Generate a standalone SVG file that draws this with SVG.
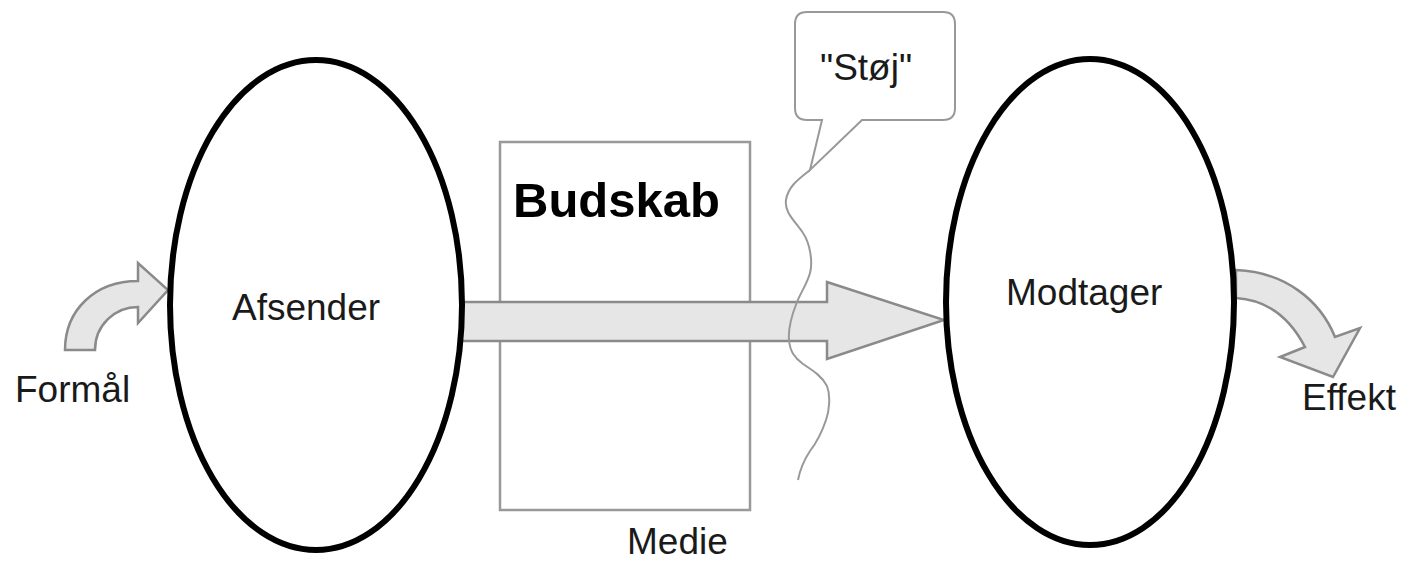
<svg xmlns="http://www.w3.org/2000/svg" width="1408" height="561" viewBox="0 0 1408 561">
<style>
.lbl{font-family:"Liberation Sans",Arial,sans-serif;font-size:37px;fill:#1a1a1a}
.bold{font-family:"Liberation Sans",Arial,sans-serif;font-size:49px;font-weight:bold;fill:#000}
.arrow{fill:#e6e6e6;stroke:#8a8a8a;stroke-width:2.5;stroke-linejoin:miter}
.thin{fill:none;stroke:#999;stroke-width:2}
.oval{fill:#fff;stroke:#000;stroke-width:6}
</style>
<rect width="1408" height="561" fill="#fff"/>
<g id="medie">
<rect x="500" y="142" width="250" height="368" fill="#fff" stroke="#999" stroke-width="2.5"/>
<text class="bold" x="513" y="217">Budskab</text>
<text class="lbl" x="627" y="554">Medie</text>
</g>
<g id="connectors">
<path class="arrow" d="M460,302 H827 V282 L944,320 L827,359 V341 H460 Z"/>
<path class="arrow" d="M65,350 C65,310 95,281 138,281 L138,263 L168,290 L138,323 L138,307 C115,307 95,325 95,350 Z"/>
<path class="arrow" d="M1236,270 C1285,272 1320,300 1335,337 L1360,328 L1333,377 L1280,357 L1305,347 C1290,318 1268,300 1236,298 Z"/>
</g>
<g id="stoj">
<path fill="#fff" stroke="#999" stroke-width="2" d="M807,12 H943 Q955,12 955,24 V108 Q955,120 943,120 H862 L810,170 L822,120 H807 Q795,120 795,108 V24 Q795,12 807,12 Z"/>
<path class="thin" d="M810,170 C800,178 788,186 786,200 C784,213 796,222 803,233 C810,243 813,262 810,273 C807,284 801,292 797,302 C793,312 788,328 789,340 C790,352 795,358 803,364 C812,370 822,376 827,386 C831,396 829,412 826,420 C822,432 817,442 810,451 C804,460 800,470 798,480"/>
<text class="lbl" x="820" y="80">"Støj"</text>
</g>
<g id="afsender">
<ellipse class="oval" cx="316" cy="305" rx="146" ry="245"/>
<text class="lbl" x="232" y="320">Afsender</text>
</g>
<g id="modtager">
<ellipse class="oval" cx="1090" cy="302" rx="144" ry="243"/>
<text class="lbl" x="1006" y="305">Modtager</text>
</g>
<text class="lbl" x="15" y="402">Formål</text>
<text class="lbl" x="1302" y="410">Effekt</text>
</svg>
